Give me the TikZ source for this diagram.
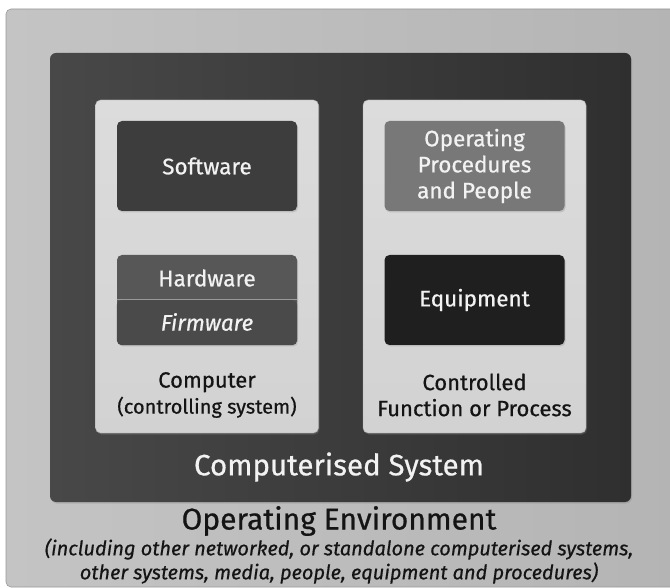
\documentclass[tikz,border=0pt]{standalone}
\usepackage{fontspec}
\setmainfont{Fira Sans}[FakeBold=0.6]
\usetikzlibrary{shadows}
\definecolor{envfill}{HTML}{C4C4C4}
\definecolor{envfillR}{HTML}{B4B4B4}
\definecolor{sysfill}{HTML}{484848}
\definecolor{sysfillR}{HTML}{2F2F2F}
\definecolor{panelfill}{HTML}{DCDCDC}
\definecolor{panelfillB}{HTML}{D2D2D2}
\definecolor{inktext}{HTML}{141414}
\definecolor{lighttext}{HTML}{F2F2F2}
\tikzset{
  panel/.style={rectangle, rounded corners=5pt, top color=panelfill, bottom color=panelfillB,
    draw=panelfillB!80!black, line width=0.4pt, minimum width=223pt, minimum height=333pt,
    drop shadow={shadow xshift=1pt, shadow yshift=-1.5pt, opacity=0.35}},
  block/.style={rectangle, rounded corners=5pt, minimum width=180pt, minimum height=90pt,
    text=lighttext, font=\fontsize{22.5}{26}\selectfont, align=center, inner sep=0pt,
    drop shadow={shadow xshift=1pt, shadow yshift=-1.5pt, opacity=0.3}},
  caption/.style={text=inktext, font=\fontsize{22}{26}\selectfont, align=center, inner sep=0pt},
}
\begin{document}
\begin{tikzpicture}[x=1pt, y=-1pt]
  \useasboundingbox (0,0) rectangle (670,588);
  \clip (0,0) rectangle (670,588);
  % operating environment
  \fill[white] (0,0) rectangle (670,588);
  \draw[left color=envfill, right color=envfillR, draw=black!40, line width=0.6pt, rounded corners=5pt]
    (6,9) rectangle (680,587);
  % computerised system
  \path[left color=sysfill, right color=sysfillR, rounded corners=6pt,
    drop shadow={shadow xshift=1pt, shadow yshift=-1.5pt, opacity=0.3}]
    (50,53) rectangle (631,502);
  % the two sub-systems
  \node[panel] (computer) at (207,266.5) {};
  \node[panel] (process) at (474.5,266.5) {};
  % computer contents
  \node[block, fill=black!76] (software) at (207,166) {Software};
  \node[block, fill=black!66] (hardware) at (207,300) {};
  \fill[black!71, rounded corners=5pt]
    (hardware.west |- 0,300) -- (hardware.south west) -- (hardware.south east) -- (hardware.east |- 0,300) -- cycle;
  \draw[black!40, line width=1pt] (hardware.west |- 0,300) -- (hardware.east |- 0,300);
  \node[text=lighttext, font=\fontsize{22.5}{26}\selectfont] (hwlabel) at (207,278) {Hardware};
  \node[text=lighttext, font=\fontsize{22.5}{26}\selectfont\itshape] (fwlabel) at (207,322) {Firmware};
  \node[caption] (computerlabel) at (207,395)
    {Computer\\{\fontsize{20}{26}\selectfont(controlling system)}};
  % controlled process contents
  \node[block, fill=black!53] (people) at (474.5,166)
    {Operating\\Procedures\\and People};
  \node[block, fill=black!88] (equipment) at (474.5,300) {Equipment};
  \node[caption] (processlabel) at (474.5,395)
    {Controlled\\Function or Process};
  % system and environment captions
  \node[text=lighttext, font=\fontsize{29.5}{32}\selectfont] (syslabel) at (339,467) {Computerised System};
  \node[text=inktext, font=\fontsize{30}{32}\selectfont] (envlabel) at (339,521) {Operating Environment};
  \node[text=inktext, font=\fontsize{20}{24}\selectfont\itshape, align=center, inner sep=0pt] (envnote) at (339,561)
    {(including other networked, or standalone computerised systems,\\other systems, media, people, equipment and procedures)};
\end{tikzpicture}
\end{document}
